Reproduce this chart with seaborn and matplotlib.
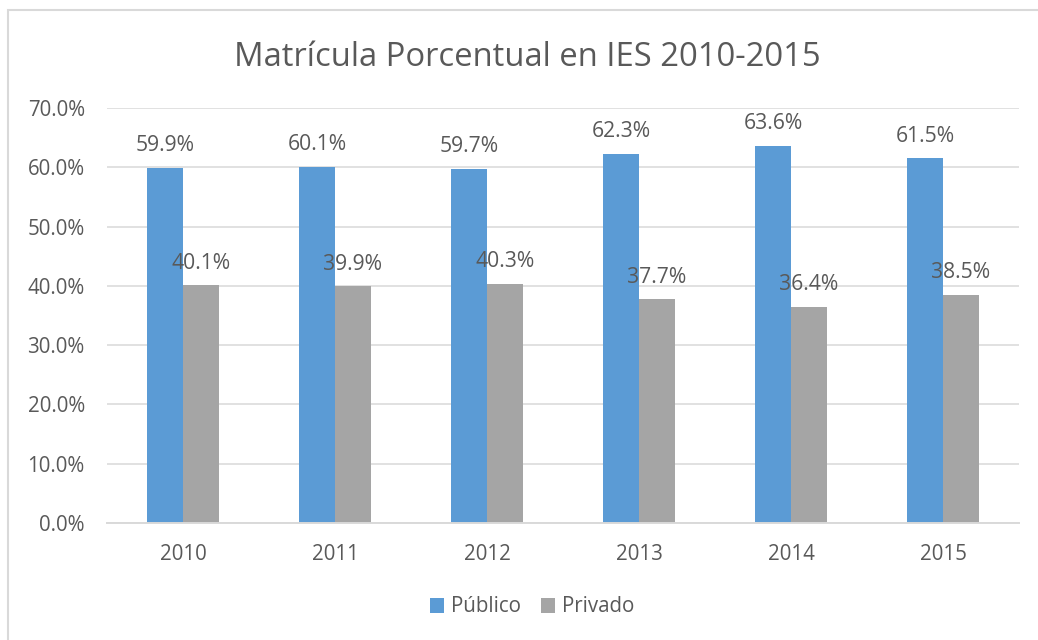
import matplotlib
matplotlib.use("Agg")
import matplotlib.pyplot as plt
import seaborn as sns
import pandas as pd
from matplotlib.patches import Rectangle
from matplotlib.ticker import FuncFormatter

years = ["2010", "2011", "2012", "2013", "2014", "2015"]
publico = [59.9, 60.1, 59.7, 62.3, 63.6, 61.5]
privado = [40.1, 39.9, 40.3, 37.7, 36.4, 38.5]
series_names = ["Público", "Privado"]
title = "Matrícula Porcentual en IES 2010-2015"
y_ticks = [0, 10, 20, 30, 40, 50, 60, 70]

df = pd.DataFrame({
    "year": years * 2,
    "value": publico + privado,
    "serie": [series_names[0]] * len(years) + [series_names[1]] * len(years),
})

sns.set_theme(style="white")
plt.rcParams['font.family'] = ['Open Sans', 'DejaVu Sans']
TXT = "#595959"
GRID = "#D9D9D9"

fig = plt.figure(figsize=(10.38, 6.4), dpi=100)
ax = fig.add_axes([107/1038, 1-523/640, (1019-107)/1038, (523-108)/640])

palette = {series_names[0]: "#5B9BD5", series_names[1]: "#A5A5A5"}
sns.barplot(data=df, x="year", y="value", hue="serie", palette=palette,
            width=72/152, saturation=1, ax=ax, legend=True, linewidth=0)

ax.set_ylim(0, 70)
ax.set_yticks(y_ticks)
ax.yaxis.set_major_formatter(FuncFormatter(lambda v, p: f"{v:.1f}%"))
ax.yaxis.grid(True, color=GRID, linewidth=1.1)
ax.set_axisbelow(True)
for s in ["top", "right", "left"]:
    ax.spines[s].set_visible(False)
ax.spines["bottom"].set_color(GRID)
ax.spines["bottom"].set_linewidth(1.4)
ax.tick_params(axis="both", length=0, labelsize=14.8, colors=TXT)
ax.tick_params(axis="x", pad=15)
ax.tick_params(axis="y", pad=16)
ax.set_xlabel("")
ax.set_ylabel("")

for cont in ax.containers:
    for bar in cont:
        h = bar.get_height()
        ax.annotate(f"{h:.1f}%", (bar.get_x() + bar.get_width()/2, h),
                    xytext=(0, 16), textcoords="offset points",
                    ha="center", va="center", fontsize=15.2, color=TXT)

handles, labels = ax.get_legend_handles_labels()
ax.get_legend().remove()
fig.legend(handles, labels, loc="center", bbox_to_anchor=(532/1038, 1-607/640),
           ncol=2, frameon=False, fontsize=14.8, labelcolor=TXT,
           handlelength=0.7, handleheight=0.7, handletextpad=0.3, columnspacing=1.0)

fig.text(527.5/1038, 1-57/640, title, ha="center", va="center", fontsize=23.6, color=TXT)

fig.patches.append(Rectangle((7.5/1038, -0.1), 1.2, 1.1 - 10/640 + 0.0,
                             transform=fig.transFigure, fill=False,
                             edgecolor=GRID, linewidth=1.5))

fig.savefig("out.png", dpi=100)
